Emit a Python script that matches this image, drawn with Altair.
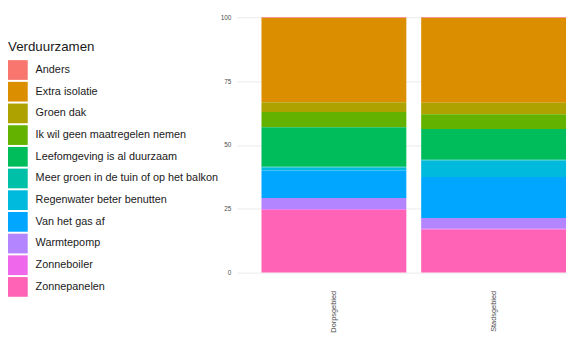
import altair as alt
import pandas as pd

categories = ["Anders", "Extra isolatie", "Groen dak", "Ik wil geen maatregelen nemen",
              "Leefomgeving is al duurzaam", "Meer groen in de tuin of op het balkon",
              "Regenwater beter benutten", "Van het gas af", "Warmtepomp",
              "Zonneboiler", "Zonnepanelen"]
colors = ["#F8766D", "#DB8E00", "#AEA200", "#64B200", "#00BD5C", "#00C1A7",
          "#00BADE", "#00A6FF", "#B385FF", "#EF67EB", "#FF63B6"]
groups = ["Dorpsgebied", "Stadsgebied"]
values_a = [0.3, 33.0, 3.8, 6.0, 15.4, 0.3, 1.2, 10.8, 4.4, 0.3, 24.5]
values_b = [0.3, 33.2, 4.5, 5.8, 12.0, 0.3, 6.5, 16.0, 4.2, 0.4, 16.8]
y_ticks = [0, 25, 50, 75, 100]

rows = []
for g, vals in zip(groups, [values_a, values_b]):
    for i, (c, v) in enumerate(zip(categories, vals)):
        rows.append({"groep": g, "Verduurzamen": c, "pct": v, "idx": i})
df = pd.DataFrame(rows)

chart = alt.Chart(df).mark_bar(strokeWidth=0).encode(
    x=alt.X("groep:N", sort=groups, title=None,
            scale=alt.Scale(paddingInner=0.093, paddingOuter=0.0775, align=1),
            axis=alt.Axis(labelAngle=270, labelFontSize=7.5, labelColor="#4D4D4D",
                          labelPadding=18, ticks=False, domain=False, grid=False,
                          labelFont="Liberation Sans")),
    y=alt.Y("pct:Q", stack="zero", title=None,
            scale=alt.Scale(domain=[0, 100], nice=False),
            axis=alt.Axis(values=y_ticks, labelFontSize=6.5, labelColor="#4D4D4D",
                          labelPadding=6, ticks=False, domain=False, grid=True,
                          gridColor="#EBEBEB", gridWidth=1, labelFont="Liberation Sans")),
    color=alt.Color("Verduurzamen:N", sort=categories,
                    scale=alt.Scale(domain=categories, range=colors),
                    legend=alt.Legend(orient="none", legendX=-232, legendY=23,
                                      title="Verduurzamen", titleFontSize=13.5,
                                      titleFontWeight="normal", titleColor="#1A1A1A",
                                      titleFont="Liberation Sans", titlePadding=7,
                                      labelFontSize=11, labelColor="#1A1A1A",
                                      labelFont="Liberation Sans", labelLimit=300,
                                      symbolType="square", symbolSize=400,
                                      symbolStrokeWidth=0, symbolOpacity=1,
                                      rowPadding=2, labelOffset=8)),
    order=alt.Order("idx:Q", sort="descending"),
).properties(
    width=334, height=259,
    autosize=alt.AutoSizeParams(type="none"),
    padding={"left": 232, "top": 7, "right": 2, "bottom": 70},
).configure_view(stroke=None)

chart.save("out.html", embed_options={"renderer": "svg", "actions": False})
